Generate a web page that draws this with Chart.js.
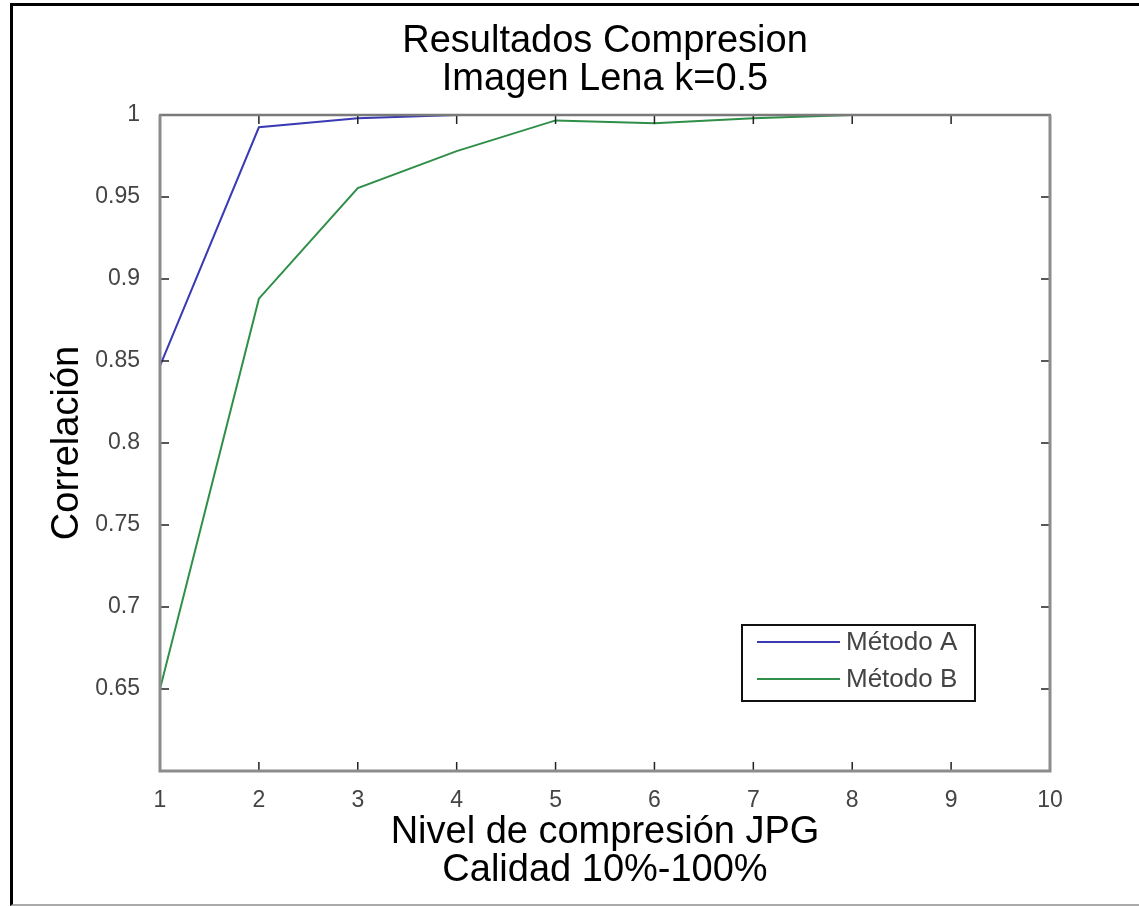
<!DOCTYPE html>
<html>
<head>
<meta charset="utf-8">
<script src="https://cdn.jsdelivr.net/npm/chart.js@4.4.0/dist/chart.umd.min.js"></script>
<style>
body{margin:0;background:#fff;}
#wrap{position:relative;width:1139px;height:906px;}
#frame{position:absolute;left:10px;top:3px;width:1129px;height:903px;box-sizing:border-box;border-top:3px solid #000;border-left:3px solid #000;border-bottom:2px solid #aaa;pointer-events:none;}
</style>
</head>
<body>
<div id="wrap">
<canvas id="myChart" width="1139" height="906"></canvas>
<div id="frame"></div>
</div>
<script>
// valores
const levels = [1, 2, 3, 4, 5, 6, 7, 8, 9, 10];
const metodoA = [0.847, 0.9925, 0.998, 1, 1, 1, 1, 1, 1, 1];
const metodoB = [0.65, 0.888, 0.9555, 0.978, 0.9967, 0.995, 0.998, 1, 1, 1];
const xTickLabels = ['1', '2', '3', '4', '5', '6', '7', '8', '9', '10'];
const yTickLabels = ['', '0.65', '0.7', '0.75', '0.8', '0.85', '0.9', '0.95', '1'];

const fontFam = '"Liberation Sans", Arial, Helvetica, sans-serif';

function toPoints(vals){
  return levels.map((x, i) => ({x: x, y: vals[i]}));
}

// caja de ejes estilo matlab con ticks hacia dentro
const boxPlugin = {
  id: 'boxPlugin',
  afterDatasetsDraw(chart){
    const ctx = chart.ctx;
    const a = chart.chartArea;
    const xs = chart.scales.x, ys = chart.scales.y;
    ctx.save();
    ctx.strokeStyle = '#222';
    ctx.lineWidth = 1.5;
    xs.ticks.forEach(t => {
      let px = xs.getPixelForValue(t.value);
      ctx.beginPath();
      ctx.moveTo(px, a.bottom); ctx.lineTo(px, a.bottom - 9);
      ctx.moveTo(px, a.top); ctx.lineTo(px, a.top + 9);
      ctx.stroke();
    });
    ys.ticks.forEach(t => {
      let py = ys.getPixelForValue(t.value);
      ctx.beginPath();
      ctx.moveTo(a.left, py); ctx.lineTo(a.left + 9, py);
      ctx.moveTo(a.right, py); ctx.lineTo(a.right - 9, py);
      ctx.stroke();
    });
    ctx.strokeStyle = '#7a7a7a';
    ctx.lineWidth = 2.5;
    ctx.beginPath();
    ctx.moveTo(a.left - 1, a.top); ctx.lineTo(a.right + 1, a.top);
    ctx.stroke();
    ctx.strokeStyle = '#8c8c8c';
    ctx.lineWidth = 3;
    ctx.beginPath();
    ctx.moveTo(a.left, a.top); ctx.lineTo(a.left, a.bottom); ctx.lineTo(a.right, a.bottom); ctx.lineTo(a.right, a.top);
    ctx.stroke();
    ctx.restore();
  },
  afterDraw(chart){
    // leyenda abajo a la derecha dentro de los ejes
    const ctx = chart.ctx;
    const a = chart.chartArea;
    const right = a.right - 75, bottom = a.bottom - 70;
    const w = 233, h = 76;
    const left = right - w, top = bottom - h;
    ctx.save();
    ctx.fillStyle = '#fff';
    ctx.fillRect(left, top, w, h);
    ctx.strokeStyle = '#111';
    ctx.lineWidth = 2;
    ctx.strokeRect(left, top, w, h);
    ctx.font = '26px ' + fontFam;
    ctx.textBaseline = 'middle';
    ctx.textAlign = 'left';
    chart.data.datasets.forEach((ds, i) => {
      let y = top + 17 + i * 37;
      ctx.strokeStyle = ds.borderColor;
      ctx.lineWidth = 2;
      ctx.beginPath();
      ctx.moveTo(left + 15, y); ctx.lineTo(left + 98, y);
      ctx.stroke();
      ctx.fillStyle = '#444';
      ctx.fillText(ds.label, left + 104, y + 1);
    });
    ctx.restore();
  }
};

new Chart(document.getElementById('myChart'), {
  type: 'line',
  data: {
    datasets: [
      {label: 'Método A', data: toPoints(metodoA), borderColor: '#3a3ab4', borderWidth: 2, pointRadius: 0, tension: 0},
      {label: 'Método B', data: toPoints(metodoB), borderColor: '#2f8f48', borderWidth: 2, pointRadius: 0, tension: 0}
    ]
  },
  options: {
    responsive: false,
    animation: false,
    layout: {padding: {left: 0, right: 89, top: 0, bottom: 0}},
    plugins: {
      legend: {display: false},
      tooltip: {enabled: false}
    },
    scales: {
      // eje de arriba solo para centrar el titulo sobre el area del grafico
      top: {
        type: 'linear',
        position: 'top',
        min: 1, max: 10,
        grid: {display: false},
        border: {display: false},
        ticks: {display: false},
        title: {
          display: true,
          text: ['Resultados Compresion', 'Imagen Lena k=0.5'],
          color: '#000',
          font: {family: fontFam, size: 38, lineHeight: '38px'},
          padding: {top: 23, bottom: 0}
        },
        afterFit: s => { s.height = 115; }
      },
      x: {
        type: 'linear',
        position: 'bottom',
        min: 1, max: 10,
        grid: {display: false},
        border: {display: false},
        ticks: {
          stepSize: 1,
          padding: 8,
          color: '#444',
          font: {family: fontFam, size: 23},
          maxRotation: 0,
          callback: (v, i) => xTickLabels[i]
        },
        title: {
          display: true,
          text: ['Nivel de compresión JPG', 'Calidad 10%-100%'],
          color: '#000',
          font: {family: fontFam, size: 38, lineHeight: '38px'},
          padding: {top: 0, bottom: 16}
        },
        afterFit: s => { s.height = 135; }
      },
      y: {
        min: 0.6, max: 1,
        grid: {display: false},
        border: {display: false},
        ticks: {
          stepSize: 0.05,
          padding: 12,
          color: '#444',
          font: {family: fontFam, size: 23},
          callback: (v, i) => yTickLabels[i]
        },
        title: {
          display: true,
          text: 'Correlación',
          color: '#000',
          font: {family: fontFam, size: 38, lineHeight: '38px'},
          padding: {top: 49, bottom: 0}
        },
        afterFit: s => { s.width = 160; }
      }
    }
  },
  plugins: [boxPlugin]
});
</script>
</body>
</html>
